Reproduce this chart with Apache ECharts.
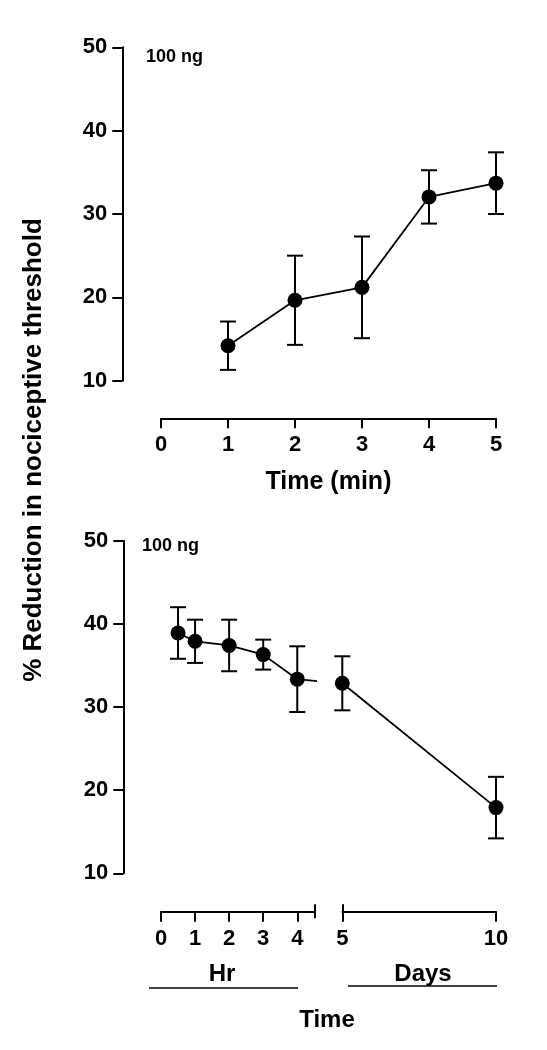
<!DOCTYPE html>
<html>
<head>
<meta charset="utf-8">
<script src="https://cdn.jsdelivr.net/npm/echarts@6/dist/echarts.min.js"></script>
<style>html,body{margin:0;padding:0;background:#fff}#c{width:547px;height:1050px}</style>
</head>
<body>
<div id="c"></div>
<script>
// ---- data ----
const yTicks = [10, 20, 30, 40, 50];
const topXTicks = [0, 1, 2, 3, 4, 5];
const topX = [1, 2, 3, 4, 5];
const topMean = [14.2, 19.65, 21.2, 32.05, 33.7];
const topErr = [2.9, 5.35, 6.1, 3.2, 3.7];

const hrTicks = [0, 1, 2, 3, 4];
const hrX = [0.5, 1, 2, 3, 4];
const hrMean = [38.9, 37.9, 37.4, 36.3, 33.35];
const hrErr = [3.1, 2.6, 3.1, 1.8, 3.95];
const hrBreakX = 4.5;
const hrStubX = [4, 4.6];
const hrStubY = [33.35, 33.1];

const dayTicks = [5, 10];
const dayX = [5, 10];
const dayMean = [32.85, 17.9];
const dayErr = [3.25, 3.7];

const doseLabel = '100 ng';
const yTitle = '% Reduction in nociceptive threshold';
const topXTitle = 'Time (min)';
const hrTitle = 'Hr';
const dayTitle = 'Days';
const bottomTitle = 'Time';

// ---- helpers ----
const FONT = '"Liberation Sans", Arial, Helvetica, sans-serif';
const pairs = (xs, ys) => xs.map((x, i) => [x, ys[i]]);
const errData = (xs, m, e) => xs.map((x, i) => [x, m[i] - e[i], m[i] + e[i]]);
const lineStyle = { color: '#000', width: 2 };
const labelStyle = { color: '#000', fontFamily: FONT, fontWeight: 'bold', fontSize: 22 };

function errRender(params, api) {
  const x = api.value(0), lo = api.value(1), hi = api.value(2);
  const a = api.coord([x, hi]), b = api.coord([x, lo]);
  const w = 8;
  const st = { stroke: '#000', lineWidth: 2 };
  return { type: 'group', children: [
    { type: 'line', shape: { x1: a[0], y1: a[1], x2: b[0], y2: b[1] }, style: st },
    { type: 'line', shape: { x1: a[0] - w, y1: a[1], x2: a[0] + w, y2: a[1] }, style: st },
    { type: 'line', shape: { x1: b[0] - w, y1: b[1], x2: b[0] + w, y2: b[1] }, style: st }
  ]};
}

function yAx(grid, offset, show) {
  return {
    type: 'value', gridIndex: grid, position: 'left', min: 10, max: 50, interval: 10, offset: offset, show: show,
    axisLine: { show: true, onZero: false, lineStyle: lineStyle },
    axisTick: { show: true, length: 10, lineStyle: lineStyle, customValues: yTicks },
    axisLabel: Object.assign({ margin: 15, customValues: yTicks }, labelStyle),
    splitLine: { show: false }
  };
}

function breakAx(grid, min, max, value, inside, len) {
  return { type: 'value', gridIndex: grid, position: 'bottom', min: min, max: max, offset: 38.4,
    axisLine: { show: false, onZero: false }, axisLabel: { show: false }, splitLine: { show: false },
    axisTick: { show: true, inside: inside, length: len, lineStyle: lineStyle, customValues: [value] } };
}

const chart = echarts.init(document.getElementById('c'), null, { renderer: 'canvas' });
chart.setOption({
  animation: false,
  backgroundColor: '#fff',
  grid: [
    { left: 161, top: 47.3, width: 335, height: 333.4 },
    { left: 161, top: 540.7, width: 153.3, height: 332.6 },
    { left: 342.3, top: 540.7, width: 153.7, height: 332.6 }
  ],
  xAxis: [
    { type: 'value', gridIndex: 0, position: 'bottom', min: 0, max: 5, interval: 1, offset: 37.6,
      axisLine: { show: true, onZero: false, lineStyle: lineStyle },
      axisTick: { show: true, length: 10, lineStyle: lineStyle, customValues: topXTicks },
      axisLabel: Object.assign({ margin: 16, customValues: topXTicks }, labelStyle),
      splitLine: { show: false },
      name: topXTitle, nameLocation: 'middle', nameGap: 51,
      nameTextStyle: { color: '#000', fontFamily: FONT, fontWeight: 'bold', fontSize: 25 } },
    { type: 'value', gridIndex: 1, position: 'bottom', min: 0, max: hrBreakX, interval: 1, offset: 38.4,
      axisLine: { show: true, onZero: false, lineStyle: lineStyle },
      axisTick: { show: true, length: 10, lineStyle: lineStyle, customValues: hrTicks },
      axisLabel: Object.assign({ margin: 16, customValues: hrTicks }, labelStyle),
      splitLine: { show: false } },
    { type: 'value', gridIndex: 2, position: 'bottom', min: 5, max: 10, interval: 5, offset: 38.4,
      axisLine: { show: true, onZero: false, lineStyle: lineStyle },
      axisTick: { show: true, length: 10, lineStyle: lineStyle, customValues: dayTicks },
      axisLabel: Object.assign({ margin: 16, customValues: dayTicks }, labelStyle),
      splitLine: { show: false } },
    // axis-break marks: end of the hour axis (up + down), start of the day axis (up)
    breakAx(1, 0, hrBreakX, hrBreakX, true, 7.5),
    breakAx(1, 0, hrBreakX, hrBreakX, false, 6.5),
    breakAx(2, 5, 10, 5, true, 7.5)
  ],
  yAxis: [ yAx(0, 38.7, true), yAx(1, 37.7, true), yAx(2, 0, false) ],
  series: [
    { type: 'custom', xAxisIndex: 0, yAxisIndex: 0, renderItem: errRender,
      encode: { x: 0, y: [1, 2] }, data: errData(topX, topMean, topErr), z: 1 },
    { type: 'line', xAxisIndex: 0, yAxisIndex: 0, data: pairs(topX, topMean),
      symbol: 'circle', symbolSize: 15, itemStyle: { color: '#000' },
      lineStyle: { color: '#000', width: 1.8 }, z: 3 },

    { type: 'custom', xAxisIndex: 1, yAxisIndex: 1, renderItem: errRender,
      encode: { x: 0, y: [1, 2] }, data: errData(hrX, hrMean, hrErr), z: 1 },
    { type: 'line', xAxisIndex: 1, yAxisIndex: 1, data: pairs(hrStubX, hrStubY), clip: false,
      symbol: 'none', lineStyle: { color: '#000', width: 1.8 }, z: 2 },
    { type: 'line', xAxisIndex: 1, yAxisIndex: 1, data: pairs(hrX, hrMean),
      symbol: 'circle', symbolSize: 15, itemStyle: { color: '#000' },
      lineStyle: { color: '#000', width: 1.8 }, z: 3 },

    { type: 'custom', xAxisIndex: 2, yAxisIndex: 2, renderItem: errRender,
      encode: { x: 0, y: [1, 2] }, data: errData(dayX, dayMean, dayErr), z: 1 },
    { type: 'line', xAxisIndex: 2, yAxisIndex: 2, data: pairs(dayX, dayMean),
      symbol: 'circle', symbolSize: 15, itemStyle: { color: '#000' },
      lineStyle: { color: '#000', width: 1.8 }, z: 3 }
  ],
  graphic: [
    { type: 'text', left: 146, top: 48, style: { text: doseLabel, fill: '#000', font: 'bold 18px ' + FONT } },
    { type: 'text', left: 142, top: 537, style: { text: doseLabel, fill: '#000', font: 'bold 18px ' + FONT } },
    { type: 'text', x: 34, y: 450, rotation: Math.PI / 2,
      style: { text: yTitle, fill: '#000', font: 'bold 26px ' + FONT, align: 'center', verticalAlign: 'middle' } },
    { type: 'text', x: 222, y: 974, style: { text: hrTitle, fill: '#000', font: 'bold 24px ' + FONT, align: 'center', verticalAlign: 'middle' } },
    { type: 'text', x: 423, y: 974, style: { text: dayTitle, fill: '#000', font: 'bold 24px ' + FONT, align: 'center', verticalAlign: 'middle' } },
    { type: 'text', x: 327, y: 1020, style: { text: bottomTitle, fill: '#000', font: 'bold 24px ' + FONT, align: 'center', verticalAlign: 'middle' } },
    { type: 'line', shape: { x1: 149, y1: 988, x2: 298, y2: 988 }, style: { stroke: '#000', lineWidth: 1.5 } },
    { type: 'line', shape: { x1: 348, y1: 986, x2: 497, y2: 986 }, style: { stroke: '#000', lineWidth: 1.5 } }
  ]
});
</script>
</body>
</html>
